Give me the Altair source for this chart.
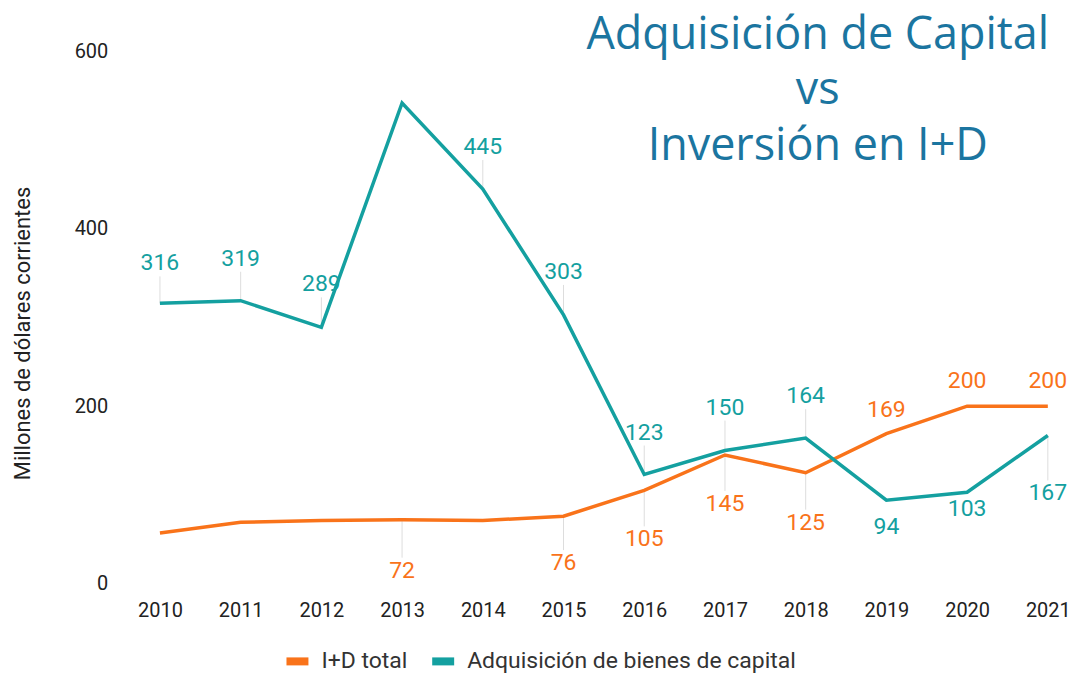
import altair as alt
import pandas as pd

years = ["2010", "2011", "2012", "2013", "2014", "2015", "2016", "2017", "2018", "2019", "2020", "2021"]
id_total = [57, 69, 71, 72, 71, 76, 105, 145, 125, 169, 200, 200]
capital = [316, 319, 289, 542, 445, 303, 123, 150, 164, 94, 103, 167]
series_names = ["I+D total", "Adquisición de bienes de capital"]

# label placement (pixels above (+) or below (-) the point; None = no label)
id_label_offsets = [None, None, None, -51, None, -47, -49, -49, -50, 24, 25, 25]
cap_label_offsets = [40, 42, 43, None, 42, 43, 42, 43, 42, -27, -17, -58]

ORANGE = "#F9731A"
TEAL = "#14A0A0"
TITLE_BLUE = "#1B75A0"

W, H = 930, 533
PX = 600 / H  # data units per pixel

rows = []
for s, vals, offs in [(series_names[0], id_total, id_label_offsets),
                      (series_names[1], capital, cap_label_offsets)]:
    for y, v, o in zip(years, vals, offs):
        rows.append({"year": y, "value": v, "series": s,
                     "off": o if o is not None else 0,
                     "has_label": o is not None})
df = pd.DataFrame(rows)

color = alt.Color("series:N",
                  scale=alt.Scale(domain=series_names, range=[ORANGE, TEAL]),
                  legend=alt.Legend(title=None, orient="none", direction="horizontal",
                                    legendX=143, legendY=596,
                                    symbolType="M-1,0H1", symbolSize=484,
                                    symbolStrokeWidth=8, labelLimit=0,
                                    labelFontSize=23, labelFont="Roboto",
                                    labelColor="#333333", columnPadding=8,
                                    symbolOffset=0, labelOffset=9))

x = alt.X("year:O", scale=alt.Scale(type="point", padding=0.25),
          axis=alt.Axis(title=None, labelAngle=0, labelFontSize=20, labelFont="Roboto",
                        labelColor="#222222", ticks=False, domain=False, grid=False,
                        labelPadding=17))

base = alt.Chart(df)

lines = base.mark_line(strokeWidth=3.5).encode(
    x=x,
    y=alt.Y("value:Q", scale=alt.Scale(domain=[0, 600], nice=False),
            axis=alt.Axis(title="Millones de dólares corrientes", values=[0, 200, 400, 600],
                          titleFontSize=22, titleFont="Roboto", titleFontWeight="normal",
                          titleColor="#222222", titlePadding=40, titleY=282,
                          labelFontSize=20, labelFont="Roboto", labelColor="#222222",
                          ticks=False, domain=False, grid=False, labelPadding=32)),
    color=color,
)

labelled = base.transform_filter("datum.has_label")

leaders = labelled.transform_filter("abs(datum.off) > 35").transform_calculate(
    y_end=f"datum.value + (datum.off - (datum.off > 0 ? 13 : -13)) * {PX}"
).mark_rule(color="#dddddd", strokeWidth=1).encode(
    x=x, y="value:Q", y2="y_end:Q"
)

texts = labelled.transform_calculate(
    lab_y=f"datum.value + datum.off * {PX}"
).mark_text(fontSize=23, font="Roboto", baseline="middle", align="center").encode(
    x=x,
    y="lab_y:Q",
    text="value:Q",
    color=alt.Color("series:N", scale=alt.Scale(domain=series_names, range=[ORANGE, TEAL]),
                    legend=None),
)

chart = alt.layer(leaders, lines, texts).properties(
    width=W, height=H,
    padding={"left": 3, "top": 4, "right": 0, "bottom": 0},
    title=alt.TitleParams(
        text=["Adquisición de Capital", "vs", "Inversión en I+D"],
        anchor="start", align="center", dx=808, offset=-128,
        fontSize=45, lineHeight=56, font="Open Sans", fontWeight="normal",
        color=TITLE_BLUE,
    ),
).configure_view(stroke=None)

chart.save("out.html", embed_options={"renderer": "svg", "actions": False})
